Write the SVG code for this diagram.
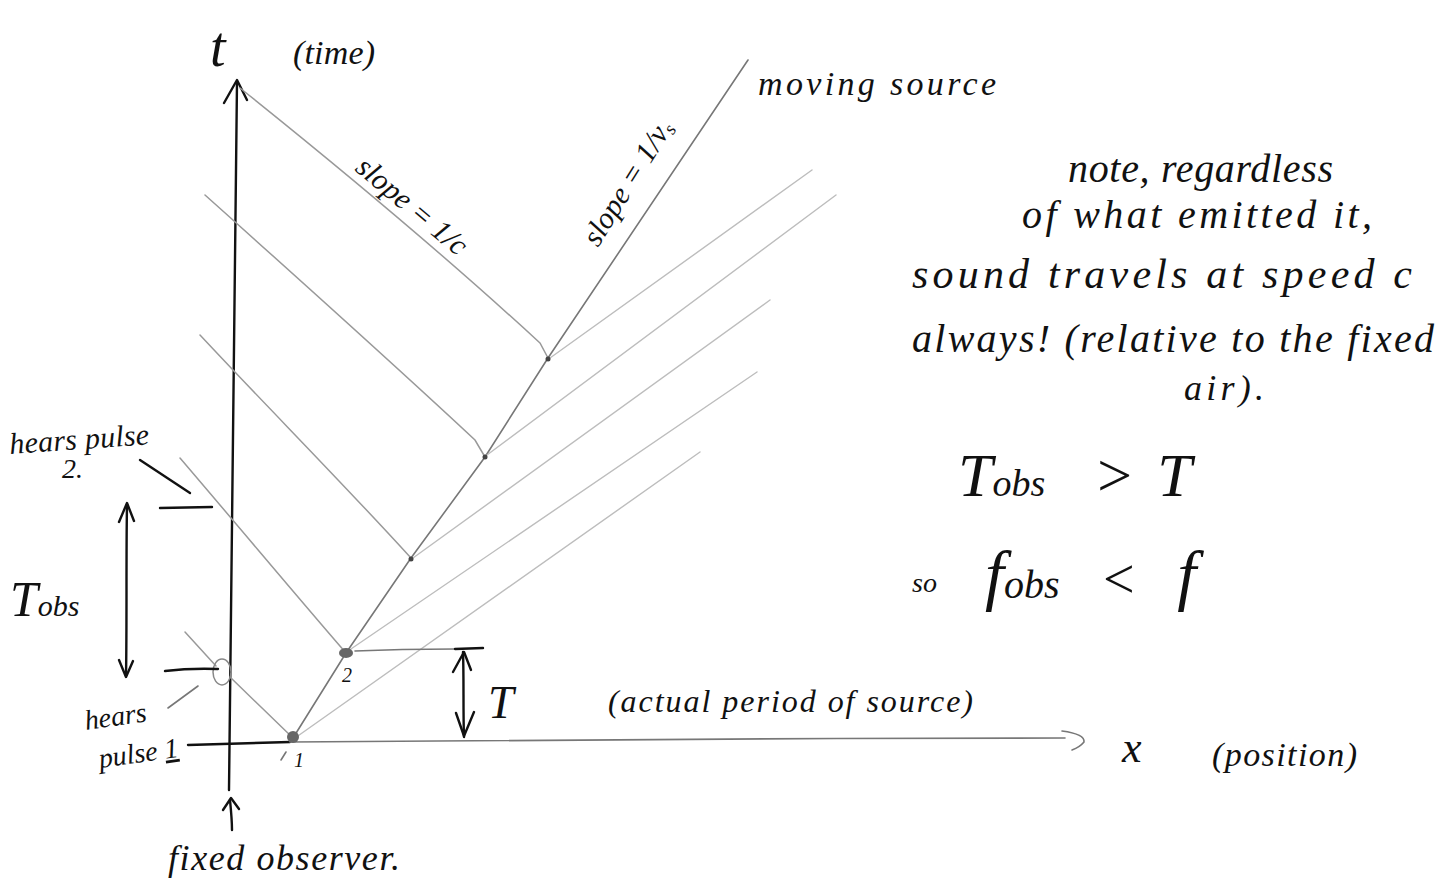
<svg xmlns="http://www.w3.org/2000/svg" width="1447" height="886" viewBox="0 0 1447 886">
<style>
.hw{font-family:"Liberation Serif",serif;font-style:italic;fill:#111}
.ink{stroke:#111;stroke-width:2.4;fill:none;stroke-linecap:round;stroke-linejoin:round}
.pen{stroke:#777;stroke-width:1.6;fill:none;stroke-linecap:round}
.ray{stroke:#999;stroke-width:1.5;fill:none;stroke-linecap:round}
.fan{stroke:#bdbdbd;stroke-width:1.4;fill:none;stroke-linecap:round}
</style>
<rect width="1447" height="886" fill="#fff"/>
<g id="axes">
<path class="ink" d="M229,790 C231,520 234,300 237,82"/>
<path class="ink" d="M224,103 L237,80 L247,100"/>
<path class="ink" d="M188,745 L290,742"/>
<path class="pen" d="M290,742 C500,740 800,738 1065,738"/>
<path class="pen" d="M1062,731 Q1085,734 1084,742 Q1080,747 1072,750"/>
</g>
<g id="worldline">
<polyline class="pen" points="293,738 346,653 411,558 485,457 548,358 748,60"/>
</g>
<g id="sound-rays">
<path class="ray" d="M293,738 L230,677"/>
<path class="ray" d="M216,666 L185,632"/>
<path class="ray" d="M346,653 C300,600 250,540 180,458"/>
<path class="ray" d="M411,558 C340,480 270,410 200,335"/>
<path class="ray" d="M485,457 L475,440 C400,370 300,280 205,195"/>
<path class="ray" d="M548,358 L540,343 C450,260 330,160 240,88"/>
<path class="fan" d="M295,738 L700,452"/>
<path class="fan" d="M348,651 L757,372"/>
<path class="fan" d="M413,558 L770,300"/>
<path class="fan" d="M487,455 L836,195"/>
<path class="fan" d="M550,358 L812,170"/>
</g>
<g id="emissions">
<circle cx="293" cy="737" r="6" fill="#666"/>
<ellipse cx="346" cy="653" rx="7" ry="5" fill="#666"/>
<circle cx="411" cy="559" r="2.5" fill="#444"/>
<circle cx="485" cy="457" r="2.5" fill="#444"/>
<circle cx="548" cy="359" r="2.5" fill="#444"/>
<path class="pen" d="M286,752 L281,760"/>
<text class="hw" x="294" y="767" font-size="20">1</text>
<text class="hw" x="342" y="682" font-size="20">2</text>
</g>
<g id="period">
<path class="pen" d="M355,651 C400,649 430,649 455,649"/>
<path class="ink" d="M455,649 L483,648"/>
<path class="ink" d="M463,652 C464,680 463,710 464,737"/>
<path class="ink" d="M453,672 L464,652 L471,670"/>
<path class="ink" d="M456,713 L464,736 L474,712"/>
<text class="hw" x="488" y="718" font-size="46" font-style="normal">T</text>
<text class="hw" x="608" y="712" font-size="32" textLength="365">(actual period of source)</text>
</g>
<g id="observer">
<ellipse cx="222" cy="672" rx="9" ry="13" fill="none" stroke="#888" stroke-width="1.5"/>
<path class="ink" d="M160,508 L212,507"/>
<path class="ink" d="M165,671 Q190,668 218,669"/>
<path class="ink" d="M140,460 L190,493"/>
<path class="pen" d="M168,708 L198,686"/>
<path class="ink" d="M127,505 C126,560 127,620 126,676"/>
<path class="ink" d="M119,522 L127,503 L134,521"/>
<path class="ink" d="M119,660 L126,677 L133,661"/>
<path class="ink" d="M232,830 C232,820 231,810 230,800"/>
<path class="ink" d="M223,810 L231,798 L239,809"/>
</g>
<g id="labels">
<text class="hw" x="210" y="66" font-size="56" font-style="normal">t</text>
<text class="hw" x="293" y="64" font-size="34" textLength="82">(time)</text>
<text class="hw" x="758" y="95" font-size="34" textLength="238">moving source</text>
<text class="hw" transform="translate(354,170) rotate(40)" font-size="30">slope = 1/c</text>
<text class="hw" transform="translate(598,248) rotate(-58)" font-size="30">slope = 1/v<tspan font-size="19" dy="4">s</tspan></text>
<text class="hw" transform="translate(10,454) rotate(-4)" font-size="30" textLength="140">hears pulse</text>
<text class="hw" x="62" y="478" font-size="28">2.</text>
<text class="hw" x="10" y="616" font-size="50" font-style="normal">T<tspan font-size="30">obs</tspan></text>
<text class="hw" transform="translate(86,730) rotate(-8)" font-size="28">hears</text>
<text class="hw" transform="translate(100,768) rotate(-8)" font-size="28">pulse <tspan text-decoration="underline">1</tspan></text>
<text class="hw" x="1122" y="762" font-size="44">x</text>
<text class="hw" x="1212" y="766" font-size="34" textLength="145">(position)</text>
<text class="hw" x="168" y="870" font-size="36" textLength="232">fixed observer.</text>
</g>
<g id="note">
<text class="hw" x="1068" y="182" font-size="40" textLength="265">note, regardless</text>
<text class="hw" x="1022" y="228" font-size="40" textLength="350">of what emitted it,</text>
<text class="hw" x="912" y="288" font-size="42" textLength="500">sound travels at speed c</text>
<text class="hw" x="912" y="352" font-size="40" textLength="522">always! (relative to the fixed</text>
<text class="hw" x="1184" y="400" font-size="36" textLength="80">air).</text>
<text class="hw" x="958" y="496" font-size="62" font-style="normal">T<tspan font-size="38">obs</tspan><tspan dx="48">&gt;</tspan><tspan dx="22">T</tspan></text>
<text class="hw" x="912" y="592" font-size="28">so</text>
<text class="hw" x="985" y="598" font-size="68">f<tspan font-size="40">obs</tspan><tspan dx="40" font-size="56">&lt;</tspan><tspan dx="40">f</tspan></text>
</g>
</svg>
